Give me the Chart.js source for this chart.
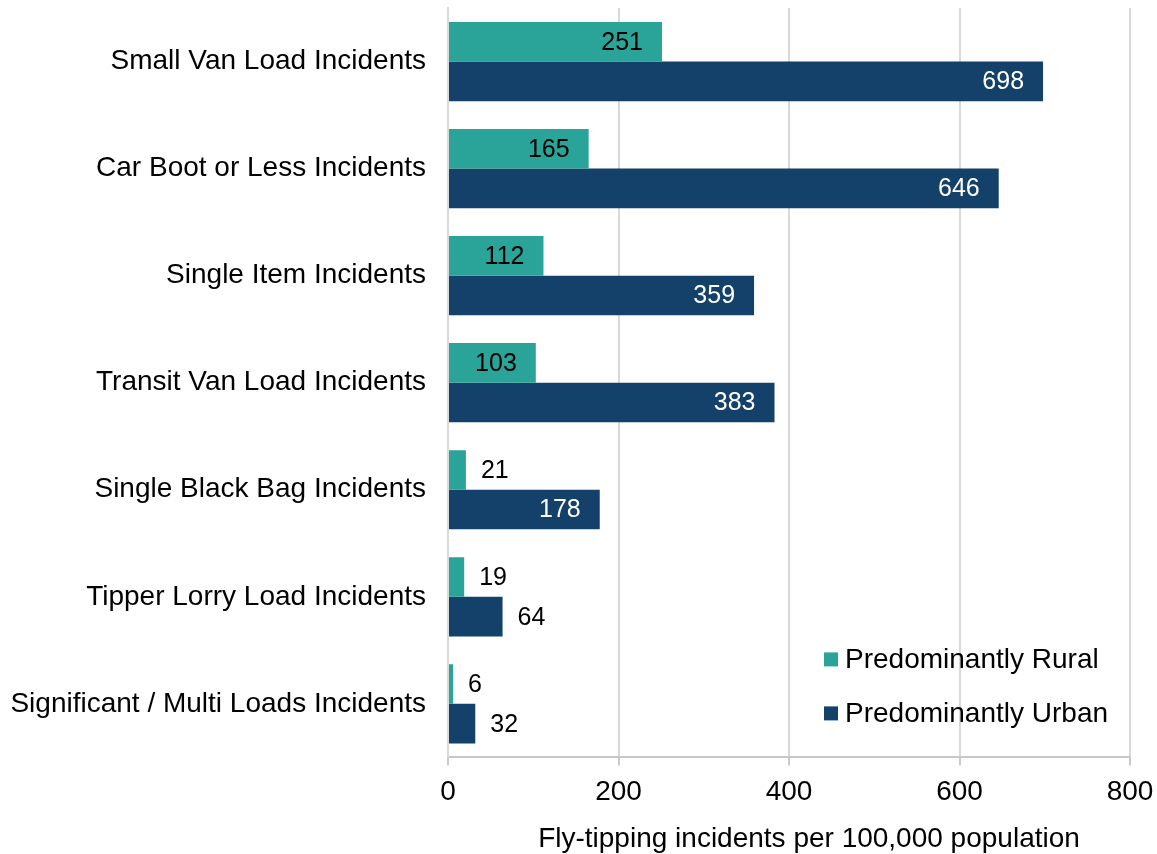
<!DOCTYPE html>
<html>
<head>
<meta charset="utf-8">
<script src="https://cdn.jsdelivr.net/npm/chart.js@4/dist/chart.umd.min.js"></script>
<style>
  html, body { margin: 0; padding: 0; background: #fff; }
  #wrap { width: 1157px; height: 854px; }
</style>
</head>
<body>
<div id="wrap"><canvas id="chart"></canvas></div>
<script>
const categories = [
  'Small Van Load Incidents',
  'Car Boot or Less Incidents',
  'Single Item Incidents',
  'Transit Van Load Incidents',
  'Single Black Bag Incidents',
  'Tipper Lorry Load Incidents',
  'Significant / Multi Loads Incidents'
];
const ruralValues = [251, 165, 112, 103, 21, 19, 6];
const urbanValues = [698, 646, 359, 383, 178, 64, 32];
const xTicks = [0, 200, 400, 600, 800];
const xTitle = 'Fly-tipping incidents per 100,000 population';

const RURAL = '#2AA398';
const URBAN = '#134169';
const FONT = 'Liberation Sans, Arial, sans-serif';

// value labels: inside end for long bars, just outside for short ones
const valueLabels = {
  id: 'valueLabels',
  afterDatasetsDraw(chart) {
    const ctx = chart.ctx;
    ctx.save();
    ctx.font = '25px ' + FONT;
    ctx.textBaseline = 'middle';
    chart.data.datasets.forEach((ds, di) => {
      const meta = chart.getDatasetMeta(di);
      meta.data.forEach((bar, i) => {
        const text = String(ds.data[i]);
        const w = ctx.measureText(text).width;
        if (bar.x - bar.base > w + 35) {
          ctx.textAlign = 'right';
          ctx.fillStyle = di === 0 ? '#000' : '#fff';
          ctx.fillText(text, bar.x - 19, bar.y + 1);
        } else {
          ctx.textAlign = 'left';
          ctx.fillStyle = '#000';
          ctx.fillText(text, bar.x + 15, bar.y + 1);
        }
      });
    });
    ctx.restore();
  }
};

// legend inside the plot area (bottom right) + x axis title sitting a bit right of centre
const extras = {
  id: 'extras',
  afterDraw(chart) {
    const ctx = chart.ctx;
    const area = chart.chartArea;
    ctx.save();
    ctx.font = '28px ' + FONT;
    ctx.textBaseline = 'middle';
    ctx.textAlign = 'left';
    const x = area.right - 306;
    const rows = [area.bottom - 98, area.bottom - 44];
    chart.data.datasets.forEach((ds, i) => {
      ctx.fillStyle = ds.backgroundColor;
      ctx.fillRect(x, rows[i] - 7, 14, 14);
      ctx.fillStyle = '#000';
      ctx.fillText(ds.label, x + 21, rows[i] + 1);
    });
    ctx.textAlign = 'center';
    ctx.fillText(xTitle, (area.left + area.right) / 2 + 20, chart.height - 15);
    ctx.restore();
  }
};

new Chart(document.getElementById('chart'), {
  type: 'bar',
  data: {
    labels: categories,
    datasets: [
      { label: 'Predominantly Rural', data: ruralValues, backgroundColor: RURAL },
      { label: 'Predominantly Urban', data: urbanValues, backgroundColor: URBAN }
    ]
  },
  options: {
    indexAxis: 'y',
    responsive: true,
    maintainAspectRatio: false,
    animation: false,
    categoryPercentage: 0.74,
    barPercentage: 1.0,
    layout: { padding: { top: 8, right: 27, left: 10, bottom: 35 } },
    plugins: {
      legend: { display: false },
      tooltip: { enabled: false }
    },
    scales: {
      x: {
        min: 0,
        max: 800,
        afterBuildTicks(axis) { axis.ticks = xTicks.map(v => ({ value: v })); },
        afterFit(axis) { axis.paddingLeft = 0; axis.paddingRight = 0; },
        grid: { color: '#d9d9d9', lineWidth: 2, drawTicks: true, tickLength: 8, tickColor: '#c8c8c8' },
        border: { display: true, color: '#c8c8c8', width: 2 },
        ticks: { color: '#000', font: { family: FONT, size: 28 }, padding: 10 }
      },
      y: {
        afterFit(axis) { axis.paddingTop = 0; axis.paddingBottom = 0; axis.width = 438; },
        grid: { display: false },
        border: { display: true, color: '#d9d9d9', width: 2 },
        ticks: { color: '#000', font: { family: FONT, size: 28 }, padding: 14 }
      }
    }
  },
  plugins: [valueLabels, extras]
});
</script>
</body>
</html>
